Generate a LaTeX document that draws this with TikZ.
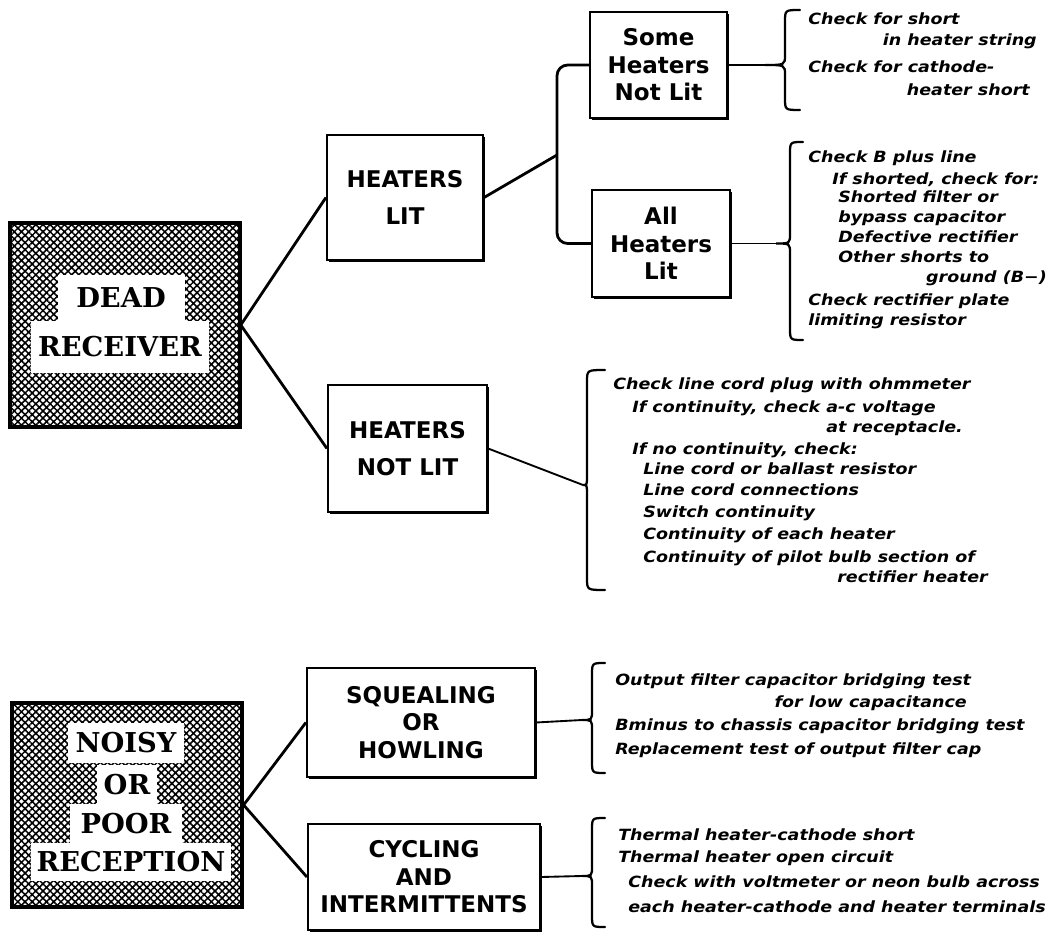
\documentclass[tikz,border=0pt]{standalone}
\usepackage{fontspec}
\newfontfamily\notefont{DejaVu Sans}[FakeStretch=1.13]
\newfontfamily\boxfont{DejaVu Sans}
\newfontfamily\labfont{DejaVu Serif}
\usetikzlibrary{patterns.meta,shadows}
% brace: #1 x of ends, #2 x of body, #3 x of tip, #4 y top, #5 y tip, #6 y bottom
\newcommand{\mybrace}[6]{%
  \draw[bracestyle] (#1,#4) .. controls (#2,#4) .. (#2,{#4+12}) -- (#2,{#5-10})
    .. controls (#2,#5) .. (#3,#5) .. controls (#2,#5) .. (#2,{#5+10})
    -- (#2,{#6-12}) .. controls (#2,#6) .. (#1,#6);}
\begin{document}
\begin{tikzpicture}[x=0.75pt,y=-0.75pt,
  shadowed/.style={drop shadow={shadow xshift=1.3pt,shadow yshift=-1.3pt,fill=black,opacity=1}},
  box/.style={draw,line width=1.6pt,fill=white,shadowed,align=center,inner sep=0pt,
    font=\boxfont\bfseries\fontsize{17.25}{20.6}\selectfont},
  tallbox/.style={box,font=\boxfont\bfseries\fontsize{17.25}{28}\selectfont},
  mainbox/.style={draw,line width=2.4pt,shadowed,preaction={fill=white},
    pattern={Hatch[angle=45,distance=3.8pt,line width=1.15pt]},pattern color=black,
    minimum width=172.5pt,minimum height=153pt,inner sep=0pt},
  lab/.style={fill=white,inner sep=0pt,font=\labfont\bfseries\fontsize{20.5}{24}\selectfont},
  conn/.style={line width=2.1pt},
  thinconn/.style={line width=1.4pt},
  bracestyle/.style={line width=1.7pt,line cap=round},
  note/.style={anchor=mid west,inner sep=0pt,font=\notefont\bfseries\itshape\fontsize{11.6}{14}\selectfont},
  notee/.style={note,anchor=mid east}]
\fill[white] (0,0) rectangle (1057,934);
\useasboundingbox (0,0) rectangle (1057,934);

% ---------- main boxes
\node[mainbox] (dead) at (125,325) {};
\node[lab,minimum width=95.25pt,minimum height=34.5pt] (deadA) at (121,298) {DEAD};
\node[lab,minimum width=133pt,minimum height=39pt] (deadB) at (120,347) {RECEIVER};

\node[mainbox] (noisy) at (127,805) {};
\node[lab,minimum width=87pt,minimum height=30pt] (noisyA) at (126,743) {NOISY};
\node[lab,minimum width=45pt,minimum height=30pt] (noisyB) at (127,785) {OR};
\node[lab,minimum width=84pt,minimum height=30pt] (noisyC) at (126,824) {POOR};
\node[lab,minimum width=150pt,minimum height=29pt] (noisyD) at (131,862) {RECEPTION};

% ---------- symptom boxes
\node[tallbox,minimum width=117pt,minimum height=93.75pt] (hlit) at (405,197.5) {HEATERS\\LIT};
\node[tallbox,minimum width=119.25pt,minimum height=95.25pt] (hnot) at (407.5,448.5) {HEATERS\\NOT LIT};
\node[box,minimum width=102.75pt,minimum height=79.5pt] (some) at (658.5,65) {Some\\Heaters\\Not Lit};
\node[box,minimum width=103.5pt,minimum height=80.25pt] (all) at (661,243.5) {All\\Heaters\\Lit};
\node[box,minimum width=171pt,minimum height=81.75pt] (squeal) at (421,722.5) {SQUEALING\\OR\\HOWLING};
\node[box,minimum width=174pt,minimum height=79.5pt] (cycl) at (424,877) {CYCLING\\AND\\INTERMITTENTS};

% ---------- connectors
\coordinate (jn) at (557,155);
\draw[conn] (dead.east) -- (hlit.west);
\draw[conn] (dead.east) -- (hnot.west);
\draw[conn] (hlit.east) -- (jn);
\draw[conn,rounded corners=8pt] (some.west) -| (jn) |- (all.west);
\draw[conn] (noisy.east) -- (squeal.west);
\draw[conn] (noisy.east) -- (cycl.west);

\coordinate (t1) at (765,65);
\coordinate (t2) at (776,243.5);
\coordinate (t3) at (583,485);
\coordinate (t4) at (582,720);
\coordinate (t5) at (582,876);
\draw[thinconn] (some.east) -- (t1);
\draw[thinconn] (all.east) -- (t2);
\draw[thinconn] (hnot.east) -- (t3);
\draw[thinconn] (squeal.east) -- (t4);
\draw[thinconn] (cycl.east) -- (t5);

% ---------- braces
\mybrace{800}{785}{765}{10}{65}{110}
\mybrace{803}{790}{776}{142}{243.5}{340}
\mybrace{605}{587}{583}{370}{485}{590}
\mybrace{605}{592}{582}{663}{720}{773}
\mybrace{605}{592}{582}{818}{876}{927}

% ---------- notes
\node[note] (a1) at (808,22) {Check for short};
\node[notee] (a2) at (1037,43) {in heater string};
\node[note] (a3) at (808,70) {Check for cathode-};
\node[notee] (a4) at (1030,93) {heater short};

\node[note] (b1) at (808,160) {Check B plus line};
\node[note] (b2) at (832,182) {If shorted, check for:};
\node[note] (b3) at (838,200) {Shorted filter or};
\node[note] (b4) at (838,220) {bypass capacitor};
\node[note] (b5) at (838,240) {Defective rectifier};
\node[note] (b6) at (838,260) {Other shorts to};
\node[notee] (b7) at (1047,280) {ground (B−)};
\node[note] (b8) at (808,303) {Check rectifier plate};
\node[note] (b9) at (808,323) {limiting resistor};

\node[note] (c1) at (613,387) {Check line cord plug with ohmmeter};
\node[note] (c2) at (632,410) {If continuity, check a-c voltage};
\node[notee] (c3) at (963,430) {at receptacle.};
\node[note] (c4) at (632,452) {If no continuity, check:};
\node[note] (c5) at (643,472) {Line cord or ballast resistor};
\node[note] (c6) at (643,493) {Line cord connections};
\node[note] (c7) at (643,515) {Switch continuity};
\node[note] (c8) at (643,537) {Continuity of each heater};
\node[note] (c9) at (643,560) {Continuity of pilot bulb section of};
\node[notee] (c10) at (988,580) {rectifier heater};

\node[note] (d1) at (615,683) {Output filter capacitor bridging test};
\node[notee] (d2) at (967,705) {for low capacitance};
\node[note] (d3) at (615,728) {Bminus to chassis capacitor bridging test};
\node[note] (d4) at (615,752) {Replacement test of output filter cap};

\node[note] (e1) at (618,838) {Thermal heater-cathode short};
\node[note] (e2) at (618,860) {Thermal heater open circuit};
\node[note] (e3) at (628,885) {Check with voltmeter or neon bulb across};
\node[note] (e4) at (628,910) {each heater-cathode and heater terminals};
\end{tikzpicture}
\end{document}
